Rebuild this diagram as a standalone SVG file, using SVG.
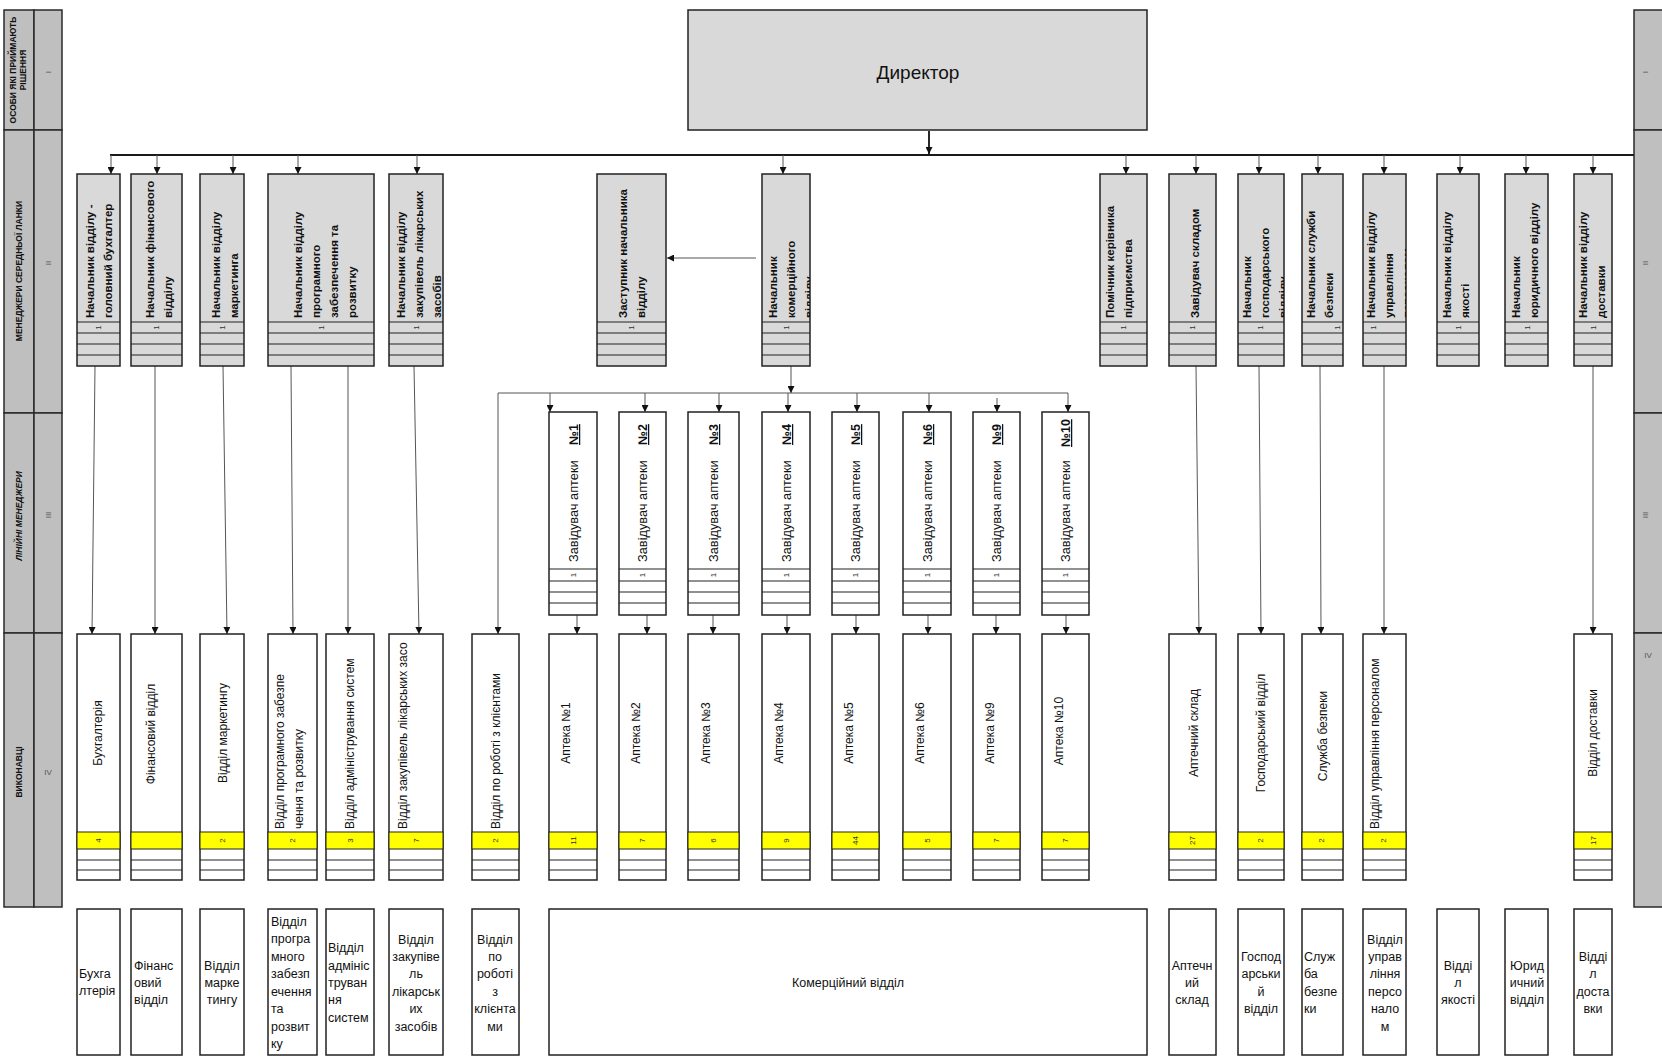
<svg xmlns="http://www.w3.org/2000/svg" width="1662" height="1064" viewBox="0 0 1662 1064">
<style>
.band{fill:#bfbfbf;stroke:#2a2a2a;stroke-width:1.5}
.mid{fill:#d9d9d9;stroke:#222;stroke-width:1.5}
.wb{fill:#fff;stroke:#222;stroke-width:1.5}
.yel{fill:#ffff00;stroke:#222;stroke-width:1}
.rl{stroke:#222;stroke-width:1.2}
.tb{font-family:"Liberation Sans",Arial,sans-serif;font-weight:bold;font-size:11.5px;fill:#111}
.tn{font-family:"Liberation Sans",Arial,sans-serif;font-size:12px;fill:#111}
.tm{font-family:"Liberation Sans",Arial,sans-serif;font-size:12.8px;fill:#111}
.tnum{font-family:"Liberation Sans",Arial,sans-serif;font-weight:bold;font-size:12.5px;fill:#111;text-decoration:underline}
.tc{font-family:"Liberation Sans",Arial,sans-serif;font-size:12.5px;fill:#111}
.n{font-family:"Liberation Sans",Arial,sans-serif;font-size:8px;fill:#333;text-anchor:middle}
.bl{font-family:"Liberation Sans",Arial,sans-serif;font-weight:bold;font-size:8.5px;fill:#111;text-anchor:middle}
.rn{font-family:"Liberation Sans",Arial,sans-serif;font-size:8px;fill:#555;text-anchor:middle}
.c{stroke:#555;stroke-width:1;fill:none;marker-end:url(#ah)}
.bus{stroke:#1a1a1a;stroke-width:2.2;fill:none}
</style>
<defs>
<marker id="ah" viewBox="0 0 10 10" refX="10" refY="5" markerWidth="7" markerHeight="7" markerUnits="userSpaceOnUse" orient="auto"><path d="M0,0 L10,5 L0,10 z" fill="#111"/></marker>
<clipPath id="cm7"><rect x="762" y="174" width="48" height="148"/></clipPath>
<clipPath id="cm10"><rect x="1238" y="174" width="46" height="148"/></clipPath>
<clipPath id="cm12"><rect x="1363" y="174" width="43" height="148"/></clipPath>
<clipPath id="cv4"><rect x="268" y="634" width="49" height="198"/></clipPath>
<clipPath id="cv6"><rect x="389" y="634" width="54" height="198"/></clipPath>
</defs>
<rect width="1662" height="1064" fill="#fff"/>

<g id="left-band">
<rect class="band" x="4" y="10" width="30" height="120"/><rect class="band" x="34" y="10" width="28" height="120"/>
<rect class="band" x="4" y="130" width="30" height="283"/><rect class="band" x="34" y="130" width="28" height="283"/>
<rect class="band" x="4" y="413" width="30" height="220"/><rect class="band" x="34" y="413" width="28" height="220"/>
<rect class="band" x="4" y="633" width="30" height="274"/><rect class="band" x="34" y="633" width="28" height="274"/>
<text class="bl" x="16" y="70" transform="rotate(-90 16 70)">ОСОБИ ЯКІ ПРИЙМАЮТЬ</text>
<text class="bl" x="26" y="70" transform="rotate(-90 26 70)">РІШЕННЯ</text>
<text class="bl" x="22" y="271" transform="rotate(-90 22 271)">МЕНЕДЖЕРИ СЕРЕДНЬОЇ ЛАНКИ</text>
<text class="bl" x="22" y="516" transform="rotate(-90 22 516)" font-style="italic">ЛІНІЙНІ МЕНЕДЖЕРИ</text>
<text class="bl" x="22" y="772" transform="rotate(-90 22 772)">ВИКОНАВЦІ</text>
<text class="rn" x="51" y="72" transform="rotate(-90 51 72)">I</text>
<text class="rn" x="51" y="263" transform="rotate(-90 51 263)">II</text>
<text class="rn" x="51" y="515" transform="rotate(-90 51 515)">III</text>
<text class="rn" x="48" y="775">IV</text>
</g>

<g id="right-band">
<rect class="band" x="1634" y="10" width="32" height="120"/>
<rect class="band" x="1634" y="130" width="32" height="283"/>
<rect class="band" x="1634" y="413" width="32" height="220"/>
<rect class="band" x="1634" y="633" width="32" height="274"/>
<text class="rn" x="1648" y="72" transform="rotate(-90 1648 72)">I</text>
<text class="rn" x="1648" y="263" transform="rotate(-90 1648 263)">II</text>
<text class="rn" x="1648" y="515" transform="rotate(-90 1648 515)">III</text>
<text class="rn" x="1648" y="658">IV</text>
</g>

<g id="director">
<rect class="mid" x="688" y="10" width="459" height="120"/>
<text x="918" y="79" font-family="Liberation Sans, Arial, sans-serif" font-size="19" fill="#111" text-anchor="middle">Директор</text>
</g>

<g id="connectors">
<line class="bus" x1="110" y1="155" x2="1634" y2="155"/>
<line x1="929" y1="131" x2="929" y2="154" stroke="#111" stroke-width="1.8" marker-end="url(#ah)"/>
<line class="c" x1="111" y1="155" x2="111" y2="174"/><line class="c" x1="157" y1="155" x2="157" y2="174"/>
<line class="c" x1="233" y1="155" x2="233" y2="174"/><line class="c" x1="298" y1="155" x2="298" y2="174"/>
<line class="c" x1="417" y1="155" x2="417" y2="174"/><line class="c" x1="783" y1="155" x2="783" y2="174"/>
<line class="c" x1="1126" y1="155" x2="1126" y2="174"/><line class="c" x1="1196" y1="155" x2="1196" y2="174"/>
<line class="c" x1="1259" y1="155" x2="1259" y2="174"/><line class="c" x1="1318" y1="155" x2="1318" y2="174"/>
<line class="c" x1="1384" y1="155" x2="1384" y2="174"/><line class="c" x1="1460" y1="155" x2="1460" y2="174"/>
<line class="c" x1="1526" y1="155" x2="1526" y2="174"/><line class="c" x1="1593" y1="155" x2="1593" y2="174"/>
<line class="c" x1="756" y1="258" x2="667" y2="258"/>
<line class="c" x1="791" y1="366" x2="791" y2="393"/>
<line x1="498" y1="393" x2="1068" y2="393" stroke="#555" stroke-width="1"/>
<line class="c" x1="498" y1="393" x2="498" y2="634"/>
<line class="c" x1="550" y1="393" x2="550" y2="412"/><line class="c" x1="645" y1="393" x2="645" y2="412"/>
<line class="c" x1="719" y1="393" x2="719" y2="412"/><line class="c" x1="788" y1="393" x2="788" y2="412"/>
<line class="c" x1="857" y1="393" x2="857" y2="412"/><line class="c" x1="929" y1="393" x2="929" y2="412"/>
<line class="c" x1="997" y1="398" x2="997" y2="412"/><line class="c" x1="1068" y1="393" x2="1068" y2="412"/>
<line class="c" x1="577" y1="615" x2="577" y2="634"/><line class="c" x1="647" y1="615" x2="647" y2="634"/>
<line class="c" x1="713" y1="615" x2="713" y2="634"/><line class="c" x1="787" y1="615" x2="787" y2="634"/>
<line class="c" x1="856" y1="615" x2="856" y2="634"/><line class="c" x1="928" y1="615" x2="928" y2="634"/>
<line class="c" x1="996" y1="615" x2="996" y2="634"/><line class="c" x1="1066" y1="615" x2="1066" y2="634"/>
<line class="c" x1="95" y1="366" x2="92" y2="634"/><line class="c" x1="155" y1="366" x2="155" y2="634"/>
<line class="c" x1="223" y1="366" x2="227" y2="634"/><line class="c" x1="291" y1="366" x2="293" y2="634"/>
<line class="c" x1="348" y1="366" x2="348" y2="634"/><line class="c" x1="414" y1="366" x2="419" y2="634"/>
<line class="c" x1="1196" y1="366" x2="1199" y2="634"/><line class="c" x1="1259" y1="366" x2="1261" y2="634"/>
<line class="c" x1="1320" y1="366" x2="1321" y2="634"/><line class="c" x1="1384" y1="366" x2="1384" y2="634"/>
<line class="c" x1="1593" y1="366" x2="1593" y2="634"/>
</g>

<g id="m1"><rect class="mid" x="77" y="174" width="43" height="192"/><path class="rl" d="M77,322H120M77,333H120M77,344H120M77,355H120"/>
<text class="tb" x="94" y="318" transform="rotate(-90 94 318)">Начальник відділу -</text><text class="tb" x="112" y="318" transform="rotate(-90 112 318)">головний  бухгалтер</text>
<text class="n" x="101" y="327.5" transform="rotate(-90 101 327.5)">1</text></g>
<g id="m2"><rect class="mid" x="131" y="174" width="51" height="192"/><path class="rl" d="M131,322H182M131,333H182M131,344H182M131,355H182"/>
<text class="tb" x="154" y="318" transform="rotate(-90 154 318)">Начальник фінансового</text><text class="tb" x="172" y="318" transform="rotate(-90 172 318)">відділу</text>
<text class="n" x="159" y="327.5" transform="rotate(-90 159 327.5)">1</text></g>
<g id="m3"><rect class="mid" x="200" y="174" width="44" height="192"/><path class="rl" d="M200,322H244M200,333H244M200,344H244M200,355H244"/>
<text class="tb" x="220" y="318" transform="rotate(-90 220 318)">Начальник відділу</text><text class="tb" x="238" y="318" transform="rotate(-90 238 318)">маркетинга</text>
<text class="n" x="225" y="327.5" transform="rotate(-90 225 327.5)">1</text></g>
<g id="m4"><rect class="mid" x="268" y="174" width="106" height="192"/><path class="rl" d="M268,322H374M268,333H374M268,344H374M268,355H374"/>
<text class="tb" x="302" y="318" transform="rotate(-90 302 318)">Начальник відділу</text><text class="tb" x="320" y="318" transform="rotate(-90 320 318)">програмного</text>
<text class="tb" x="338" y="318" transform="rotate(-90 338 318)">забезпечення та</text><text class="tb" x="356" y="318" transform="rotate(-90 356 318)">розвитку</text>
<text class="n" x="324" y="327.5" transform="rotate(-90 324 327.5)">1</text></g>
<g id="m5"><rect class="mid" x="389" y="174" width="54" height="192"/><path class="rl" d="M389,322H443M389,333H443M389,344H443M389,355H443"/>
<text class="tb" x="405" y="318" transform="rotate(-90 405 318)">Начальник відділу</text><text class="tb" x="423" y="318" transform="rotate(-90 423 318)">закупівель лікарських</text>
<text class="tb" x="441" y="318" transform="rotate(-90 441 318)">засобів</text>
<text class="n" x="419" y="327.5" transform="rotate(-90 419 327.5)">1</text></g>
<g id="m6"><rect class="mid" x="597" y="174" width="69" height="192"/><path class="rl" d="M597,322H666M597,333H666M597,344H666M597,355H666"/>
<text class="tb" x="627" y="318" transform="rotate(-90 627 318)">Заступник начальника</text><text class="tb" x="645" y="318" transform="rotate(-90 645 318)">відділу</text>
<text class="n" x="634" y="327.5" transform="rotate(-90 634 327.5)">1</text></g>
<g id="m7"><rect class="mid" x="762" y="174" width="48" height="192"/><path class="rl" d="M762,322H810M762,333H810M762,344H810M762,355H810"/>
<g clip-path="url(#cm7)"><text class="tb" x="777" y="318" transform="rotate(-90 777 318)">Начальник</text><text class="tb" x="795" y="318" transform="rotate(-90 795 318)">комерційного</text>
<text class="tb" x="813" y="318" transform="rotate(-90 813 318)">відділу</text></g>
<text class="n" x="789" y="327.5" transform="rotate(-90 789 327.5)">1</text></g>
<g id="m8"><rect class="mid" x="1100" y="174" width="47" height="192"/><path class="rl" d="M1100,322H1147M1100,333H1147M1100,344H1147M1100,355H1147"/>
<text class="tb" x="1114" y="318" transform="rotate(-90 1114 318)">Помічник керівника</text><text class="tb" x="1132" y="318" transform="rotate(-90 1132 318)">підприємства</text>
<text class="n" x="1126" y="327.5" transform="rotate(-90 1126 327.5)">1</text></g>
<g id="m9"><rect class="mid" x="1169" y="174" width="47" height="192"/><path class="rl" d="M1169,322H1216M1169,333H1216M1169,344H1216M1169,355H1216"/>
<text class="tb" x="1199" y="318" transform="rotate(-90 1199 318)">Завідувач складом</text>
<text class="n" x="1195" y="327.5" transform="rotate(-90 1195 327.5)">1</text></g>
<g id="m10"><rect class="mid" x="1238" y="174" width="46" height="192"/><path class="rl" d="M1238,322H1284M1238,333H1284M1238,344H1284M1238,355H1284"/>
<g clip-path="url(#cm10)"><text class="tb" x="1251" y="318" transform="rotate(-90 1251 318)">Начальник</text><text class="tb" x="1269" y="318" transform="rotate(-90 1269 318)">господарського</text>
<text class="tb" x="1287" y="318" transform="rotate(-90 1287 318)">відділу</text></g>
<text class="n" x="1263" y="327.5" transform="rotate(-90 1263 327.5)">1</text></g>
<g id="m11"><rect class="mid" x="1302" y="174" width="41" height="192"/><path class="rl" d="M1302,322H1343M1302,333H1343M1302,344H1343M1302,355H1343"/>
<text class="tb" x="1315" y="318" transform="rotate(-90 1315 318)">Начальник служби</text><text class="tb" x="1333" y="318" transform="rotate(-90 1333 318)">безпеки</text>
<text class="n" x="1340" y="327.5" transform="rotate(-90 1340 327.5)">1</text></g>
<g id="m12"><rect class="mid" x="1363" y="174" width="43" height="192"/><path class="rl" d="M1363,322H1406M1363,333H1406M1363,344H1406M1363,355H1406"/>
<g clip-path="url(#cm12)"><text class="tb" x="1375" y="318" transform="rotate(-90 1375 318)">Начальник відділу</text><text class="tb" x="1393" y="318" transform="rotate(-90 1393 318)">управління</text>
<text class="tb" x="1411" y="318" transform="rotate(-90 1411 318)">персоналом</text></g>
<text class="n" x="1376" y="327.5" transform="rotate(-90 1376 327.5)">1</text></g>
<g id="m13"><rect class="mid" x="1437" y="174" width="42" height="192"/><path class="rl" d="M1437,322H1479M1437,333H1479M1437,344H1479M1437,355H1479"/>
<text class="tb" x="1451" y="318" transform="rotate(-90 1451 318)">Начальник відділу</text><text class="tb" x="1469" y="318" transform="rotate(-90 1469 318)">якості</text>
<text class="n" x="1461" y="327.5" transform="rotate(-90 1461 327.5)">1</text></g>
<g id="m14"><rect class="mid" x="1505" y="174" width="43" height="192"/><path class="rl" d="M1505,322H1548M1505,333H1548M1505,344H1548M1505,355H1548"/>
<text class="tb" x="1520" y="318" transform="rotate(-90 1520 318)">Начальник</text><text class="tb" x="1538" y="318" transform="rotate(-90 1538 318)">юридичного відділу</text>
<text class="n" x="1530" y="327.5" transform="rotate(-90 1530 327.5)">1</text></g>
<g id="m15"><rect class="mid" x="1574" y="174" width="38" height="192"/><path class="rl" d="M1574,322H1612M1574,333H1612M1574,344H1612M1574,355H1612"/>
<text class="tb" x="1587" y="318" transform="rotate(-90 1587 318)">Начальник відділу</text><text class="tb" x="1605" y="318" transform="rotate(-90 1605 318)">доставки</text>
<text class="n" x="1596" y="327.5" transform="rotate(-90 1596 327.5)">1</text></g>

<g id="z1"><rect class="wb" x="549" y="412" width="48" height="203"/><path class="rl" d="M549,569H597M549,581H597M549,592H597M549,603H597"/>
<text class="tm" x="578" y="562" transform="rotate(-90 578 562)">Завідувач аптеки</text><text class="tnum" x="578" y="445" transform="rotate(-90 578 445)">№1</text>
<text class="n" x="576" y="575" transform="rotate(-90 576 575)">1</text></g>
<g id="z2"><rect class="wb" x="619" y="412" width="47" height="203"/><path class="rl" d="M619,569H666M619,581H666M619,592H666M619,603H666"/>
<text class="tm" x="647" y="562" transform="rotate(-90 647 562)">Завідувач аптеки</text><text class="tnum" x="647" y="445" transform="rotate(-90 647 445)">№2</text>
<text class="n" x="645" y="575" transform="rotate(-90 645 575)">1</text></g>
<g id="z3"><rect class="wb" x="688" y="412" width="51" height="203"/><path class="rl" d="M688,569H739M688,581H739M688,592H739M688,603H739"/>
<text class="tm" x="718" y="562" transform="rotate(-90 718 562)">Завідувач аптеки</text><text class="tnum" x="718" y="445" transform="rotate(-90 718 445)">№3</text>
<text class="n" x="716" y="575" transform="rotate(-90 716 575)">1</text></g>
<g id="z4"><rect class="wb" x="762" y="412" width="48" height="203"/><path class="rl" d="M762,569H810M762,581H810M762,592H810M762,603H810"/>
<text class="tm" x="791" y="562" transform="rotate(-90 791 562)">Завідувач аптеки</text><text class="tnum" x="791" y="445" transform="rotate(-90 791 445)">№4</text>
<text class="n" x="789" y="575" transform="rotate(-90 789 575)">1</text></g>
<g id="z5"><rect class="wb" x="832" y="412" width="47" height="203"/><path class="rl" d="M832,569H879M832,581H879M832,592H879M832,603H879"/>
<text class="tm" x="860" y="562" transform="rotate(-90 860 562)">Завідувач аптеки</text><text class="tnum" x="860" y="445" transform="rotate(-90 860 445)">№5</text>
<text class="n" x="858" y="575" transform="rotate(-90 858 575)">1</text></g>
<g id="z6"><rect class="wb" x="903" y="412" width="48" height="203"/><path class="rl" d="M903,569H951M903,581H951M903,592H951M903,603H951"/>
<text class="tm" x="932" y="562" transform="rotate(-90 932 562)">Завідувач аптеки</text><text class="tnum" x="932" y="445" transform="rotate(-90 932 445)">№6</text>
<text class="n" x="930" y="575" transform="rotate(-90 930 575)">1</text></g>
<g id="z9"><rect class="wb" x="973" y="412" width="47" height="203"/><path class="rl" d="M973,569H1020M973,581H1020M973,592H1020M973,603H1020"/>
<text class="tm" x="1001" y="562" transform="rotate(-90 1001 562)">Завідувач аптеки</text><text class="tnum" x="1001" y="445" transform="rotate(-90 1001 445)">№9</text>
<text class="n" x="999" y="575" transform="rotate(-90 999 575)">1</text></g>
<g id="z10"><rect class="wb" x="1042" y="412" width="47" height="203"/><path class="rl" d="M1042,569H1089M1042,581H1089M1042,592H1089M1042,603H1089"/>
<text class="tm" x="1070" y="562" transform="rotate(-90 1070 562)">Завідувач аптеки</text><text class="tnum" x="1070" y="447" transform="rotate(-90 1070 447)">№10</text>
<text class="n" x="1068" y="575" transform="rotate(-90 1068 575)">1</text></g>

<g id="v1"><rect class="wb" x="77" y="634" width="43" height="246"/><rect class="yel" x="77" y="832" width="43" height="17"/><path class="rl" d="M77,860H120M77,870H120"/>
<text class="tn" x="102" y="733" text-anchor="middle" transform="rotate(-90 102 733)">Бухгалтерія</text><text class="n" x="101" y="840.5" transform="rotate(-90 101 840.5)">4</text></g>
<g id="v2"><rect class="wb" x="131" y="634" width="51" height="246"/><rect class="yel" x="131" y="832" width="51" height="17"/><path class="rl" d="M131,860H182M131,870H182"/>
<text class="tn" x="155" y="734" text-anchor="middle" transform="rotate(-90 155 734)">Фінансовий відділ</text></g>
<g id="v3"><rect class="wb" x="200" y="634" width="44" height="246"/><rect class="yel" x="200" y="832" width="44" height="17"/><path class="rl" d="M200,860H244M200,870H244"/>
<text class="tn" x="227" y="733" text-anchor="middle" transform="rotate(-90 227 733)">Відділ маркетингу</text><text class="n" x="225" y="840.5" transform="rotate(-90 225 840.5)">2</text></g>
<g id="v4"><rect class="wb" x="268" y="634" width="49" height="246"/><rect class="yel" x="268" y="832" width="49" height="17"/><path class="rl" d="M268,860H317M268,870H317"/>
<g clip-path="url(#cv4)"><text class="tn" x="284" y="829" transform="rotate(-90 284 829)">Відділ програмного забезпе</text><text class="tn" x="303" y="829" transform="rotate(-90 303 829)">чення та  розвитку</text></g>
<text class="n" x="295" y="840.5" transform="rotate(-90 295 840.5)">2</text></g>
<g id="v5"><rect class="wb" x="326" y="634" width="48" height="246"/><rect class="yel" x="326" y="832" width="48" height="17"/><path class="rl" d="M326,860H374M326,870H374"/>
<text class="tn" x="354" y="829" transform="rotate(-90 354 829)">Відділ адміністрування систем</text><text class="n" x="353" y="840.5" transform="rotate(-90 353 840.5)">3</text></g>
<g id="v6"><rect class="wb" x="389" y="634" width="54" height="246"/><rect class="yel" x="389" y="832" width="54" height="17"/><path class="rl" d="M389,860H443M389,870H443"/>
<g clip-path="url(#cv6)"><text class="tn" x="407" y="829" transform="rotate(-90 407 829)">Відділ закупівель лікарських засо</text></g>
<text class="n" x="419" y="840.5" transform="rotate(-90 419 840.5)">7</text></g>
<g id="v7"><rect class="wb" x="472" y="634" width="47" height="246"/><rect class="yel" x="472" y="832" width="47" height="17"/><path class="rl" d="M472,860H519M472,870H519"/>
<text class="tn" x="500" y="829" transform="rotate(-90 500 829)">Відділ по роботі з клієнтами</text><text class="n" x="498" y="840.5" transform="rotate(-90 498 840.5)">2</text></g>
<g id="a1"><rect class="wb" x="549" y="634" width="48" height="246"/><rect class="yel" x="549" y="832" width="48" height="17"/><path class="rl" d="M549,860H597M549,870H597"/>
<text class="tn" x="570" y="733" text-anchor="middle" transform="rotate(-90 570 733)">Аптека №1</text><text class="n" x="576" y="840.5" transform="rotate(-90 576 840.5)">11</text></g>
<g id="a2"><rect class="wb" x="619" y="634" width="47" height="246"/><rect class="yel" x="619" y="832" width="47" height="17"/><path class="rl" d="M619,860H666M619,870H666"/>
<text class="tn" x="640" y="733" text-anchor="middle" transform="rotate(-90 640 733)">Аптека №2</text><text class="n" x="645" y="840.5" transform="rotate(-90 645 840.5)">7</text></g>
<g id="a3"><rect class="wb" x="688" y="634" width="51" height="246"/><rect class="yel" x="688" y="832" width="51" height="17"/><path class="rl" d="M688,860H739M688,870H739"/>
<text class="tn" x="710" y="733" text-anchor="middle" transform="rotate(-90 710 733)">Аптека №3</text><text class="n" x="716" y="840.5" transform="rotate(-90 716 840.5)">6</text></g>
<g id="a4"><rect class="wb" x="762" y="634" width="48" height="246"/><rect class="yel" x="762" y="832" width="48" height="17"/><path class="rl" d="M762,860H810M762,870H810"/>
<text class="tn" x="783" y="733" text-anchor="middle" transform="rotate(-90 783 733)">Аптека №4</text><text class="n" x="789" y="840.5" transform="rotate(-90 789 840.5)">9</text></g>
<g id="a5"><rect class="wb" x="832" y="634" width="47" height="246"/><rect class="yel" x="832" y="832" width="47" height="17"/><path class="rl" d="M832,860H879M832,870H879"/>
<text class="tn" x="853" y="733" text-anchor="middle" transform="rotate(-90 853 733)">Аптека №5</text><text class="n" x="858" y="840.5" transform="rotate(-90 858 840.5)">44</text></g>
<g id="a6"><rect class="wb" x="903" y="634" width="48" height="246"/><rect class="yel" x="903" y="832" width="48" height="17"/><path class="rl" d="M903,860H951M903,870H951"/>
<text class="tn" x="924" y="733" text-anchor="middle" transform="rotate(-90 924 733)">Аптека №6</text><text class="n" x="930" y="840.5" transform="rotate(-90 930 840.5)">5</text></g>
<g id="a9"><rect class="wb" x="973" y="634" width="47" height="246"/><rect class="yel" x="973" y="832" width="47" height="17"/><path class="rl" d="M973,860H1020M973,870H1020"/>
<text class="tn" x="994" y="733" text-anchor="middle" transform="rotate(-90 994 733)">Аптека №9</text><text class="n" x="999" y="840.5" transform="rotate(-90 999 840.5)">7</text></g>
<g id="a10"><rect class="wb" x="1042" y="634" width="47" height="246"/><rect class="yel" x="1042" y="832" width="47" height="17"/><path class="rl" d="M1042,860H1089M1042,870H1089"/>
<text class="tn" x="1063" y="731" text-anchor="middle" transform="rotate(-90 1063 731)">Аптека №10</text><text class="n" x="1068" y="840.5" transform="rotate(-90 1068 840.5)">7</text></g>
<g id="v8"><rect class="wb" x="1169" y="634" width="47" height="246"/><rect class="yel" x="1169" y="832" width="47" height="17"/><path class="rl" d="M1169,860H1216M1169,870H1216"/>
<text class="tn" x="1198" y="733" text-anchor="middle" transform="rotate(-90 1198 733)">Аптечний склад</text><text class="n" x="1195" y="840.5" transform="rotate(-90 1195 840.5)">27</text></g>
<g id="v9"><rect class="wb" x="1238" y="634" width="46" height="246"/><rect class="yel" x="1238" y="832" width="46" height="17"/><path class="rl" d="M1238,860H1284M1238,870H1284"/>
<text class="tn" x="1265" y="733" text-anchor="middle" transform="rotate(-90 1265 733)">Господарський відділ</text><text class="n" x="1263" y="840.5" transform="rotate(-90 1263 840.5)">2</text></g>
<g id="v10"><rect class="wb" x="1302" y="634" width="41" height="246"/><rect class="yel" x="1302" y="832" width="41" height="17"/><path class="rl" d="M1302,860H1343M1302,870H1343"/>
<text class="tn" x="1327" y="736" text-anchor="middle" transform="rotate(-90 1327 736)">Служба безпеки</text><text class="n" x="1324" y="840.5" transform="rotate(-90 1324 840.5)">2</text></g>
<g id="v11"><rect class="wb" x="1363" y="634" width="43" height="246"/><rect class="yel" x="1363" y="832" width="43" height="17"/><path class="rl" d="M1363,860H1406M1363,870H1406"/>
<text class="tn" x="1379" y="829" transform="rotate(-90 1379 829)">Відділ управління персоналом</text><text class="n" x="1386" y="840.5" transform="rotate(-90 1386 840.5)">2</text></g>
<g id="v12"><rect class="wb" x="1574" y="634" width="38" height="246"/><rect class="yel" x="1574" y="832" width="38" height="17"/><path class="rl" d="M1574,860H1612M1574,870H1612"/>
<text class="tn" x="1597" y="733" text-anchor="middle" transform="rotate(-90 1597 733)">Відділ доставки</text><text class="n" x="1596" y="840.5" transform="rotate(-90 1596 840.5)">17</text></g>

<g id="b1"><rect class="wb" x="77" y="909" width="43" height="146"/>
<text class="tc"><tspan x="79" y="978">Бухга</tspan><tspan x="79" y="995">лтерія</tspan></text></g>
<g id="b2"><rect class="wb" x="131" y="909" width="51" height="146"/>
<text class="tc"><tspan x="134" y="970">Фінанс</tspan><tspan x="134" y="987">овий</tspan><tspan x="134" y="1004">відділ</tspan></text></g>
<g id="b3"><rect class="wb" x="200" y="909" width="44" height="146"/>
<text class="tc" text-anchor="middle"><tspan x="222" y="970">Відділ</tspan><tspan x="222" y="987">марке</tspan><tspan x="222" y="1004">тингу</tspan></text></g>
<g id="b4"><rect class="wb" x="268" y="909" width="49" height="146"/>
<text class="tc"><tspan x="271" y="926">Відділ</tspan><tspan x="271" y="943">програ</tspan><tspan x="271" y="961">много</tspan><tspan x="271" y="978">забезп</tspan><tspan x="271" y="996">ечення</tspan><tspan x="271" y="1013">та</tspan><tspan x="271" y="1031">розвит</tspan><tspan x="271" y="1048">ку</tspan></text></g>
<g id="b5"><rect class="wb" x="326" y="909" width="48" height="146"/>
<text class="tc"><tspan x="328" y="952">Відділ</tspan><tspan x="328" y="970">адмініс</tspan><tspan x="328" y="987">труван</tspan><tspan x="328" y="1004">ня</tspan><tspan x="328" y="1022">систем</tspan></text></g>
<g id="b6"><rect class="wb" x="389" y="909" width="54" height="146"/>
<text class="tc" text-anchor="middle"><tspan x="416" y="944">Відділ</tspan><tspan x="416" y="961">закупіве</tspan><tspan x="416" y="978">ль</tspan><tspan x="416" y="996">лікарськ</tspan><tspan x="416" y="1013">их</tspan><tspan x="416" y="1031">засобів</tspan></text></g>
<g id="b7"><rect class="wb" x="472" y="909" width="47" height="146"/>
<text class="tc" text-anchor="middle"><tspan x="495" y="944">Відділ</tspan><tspan x="495" y="961">по</tspan><tspan x="495" y="978">роботі</tspan><tspan x="495" y="996">з</tspan><tspan x="495" y="1013">клієнта</tspan><tspan x="495" y="1031">ми</tspan></text></g>
<g id="b8"><rect class="wb" x="549" y="909" width="598" height="146"/>
<text class="tc" x="848" y="987" text-anchor="middle">Комерційний відділ</text></g>
<g id="b9"><rect class="wb" x="1169" y="909" width="47" height="146"/>
<text class="tc" text-anchor="middle"><tspan x="1192" y="970">Аптечн</tspan><tspan x="1192" y="987">ий</tspan><tspan x="1192" y="1004">склад</tspan></text></g>
<g id="b10"><rect class="wb" x="1238" y="909" width="46" height="146"/>
<text class="tc" text-anchor="middle"><tspan x="1261" y="961">Господ</tspan><tspan x="1261" y="978">арськи</tspan><tspan x="1261" y="996">й</tspan><tspan x="1261" y="1013">відділ</tspan></text></g>
<g id="b11"><rect class="wb" x="1302" y="909" width="41" height="146"/>
<text class="tc"><tspan x="1304" y="961">Служ</tspan><tspan x="1304" y="978">ба</tspan><tspan x="1304" y="996">безпе</tspan><tspan x="1304" y="1013">ки</tspan></text></g>
<g id="b12"><rect class="wb" x="1363" y="909" width="43" height="146"/>
<text class="tc" text-anchor="middle"><tspan x="1385" y="944">Відділ</tspan><tspan x="1385" y="961">управ</tspan><tspan x="1385" y="978">ління</tspan><tspan x="1385" y="996">персо</tspan><tspan x="1385" y="1013">нало</tspan><tspan x="1385" y="1031">м</tspan></text></g>
<g id="b13"><rect class="wb" x="1437" y="909" width="42" height="146"/>
<text class="tc" text-anchor="middle"><tspan x="1458" y="970">Відді</tspan><tspan x="1458" y="987">л</tspan><tspan x="1458" y="1004">якості</tspan></text></g>
<g id="b14"><rect class="wb" x="1505" y="909" width="43" height="146"/>
<text class="tc" text-anchor="middle"><tspan x="1527" y="970">Юрид</tspan><tspan x="1527" y="987">ичний</tspan><tspan x="1527" y="1004">відділ</tspan></text></g>
<g id="b15"><rect class="wb" x="1574" y="909" width="38" height="146"/>
<text class="tc" text-anchor="middle"><tspan x="1593" y="961">Відді</tspan><tspan x="1593" y="978">л</tspan><tspan x="1593" y="996">доста</tspan><tspan x="1593" y="1013">вки</tspan></text></g>
</svg>
